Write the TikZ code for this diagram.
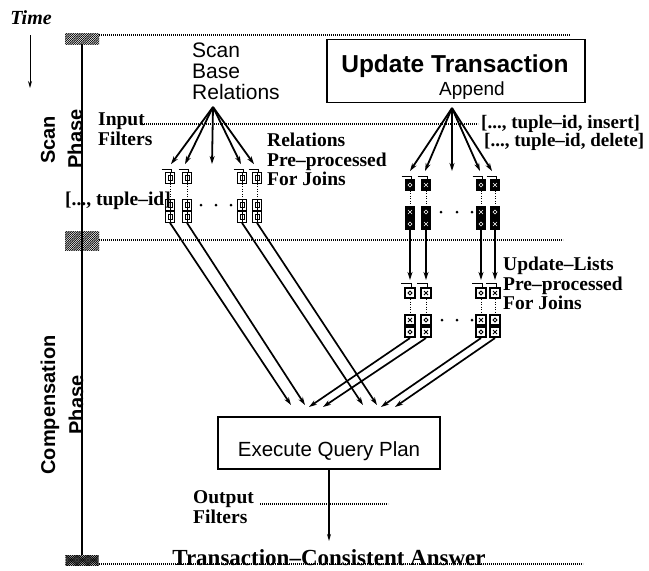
\documentclass[tikz,border=0pt]{standalone}
\usepackage{fontspec}
\setmainfont{Liberation Serif}
\newfontfamily\hv{Liberation Sans}
\usetikzlibrary{arrows.meta,patterns}

% dense diagonal hatching for the phase markers
\pgfdeclarepatternformonly{densehatch}{\pgfqpoint{-1pt}{-1pt}}{\pgfqpoint{3.2pt}{3.2pt}}{\pgfqpoint{2.2pt}{2.2pt}}{%
  \pgfsetlinewidth{0.7pt}\pgfpathmoveto{\pgfqpoint{-0.2pt}{-0.2pt}}\pgfpathlineto{\pgfqpoint{2.4pt}{2.4pt}}\pgfusepath{stroke}}
% dense cross hatching for the end marker
\pgfdeclarepatternformonly{densecross}{\pgfqpoint{-1pt}{-1pt}}{\pgfqpoint{3.2pt}{3.2pt}}{\pgfqpoint{2.2pt}{2.2pt}}{%
  \pgfsetlinewidth{0.6pt}\pgfpathmoveto{\pgfqpoint{-0.2pt}{-0.2pt}}\pgfpathlineto{\pgfqpoint{2.4pt}{2.4pt}}
  \pgfpathmoveto{\pgfqpoint{-0.2pt}{2.4pt}}\pgfpathlineto{\pgfqpoint{2.4pt}{-0.2pt}}\pgfusepath{stroke}}

% one column of a pre-processed relation: pointer hook, top block, two stacked blocks
\newcommand\relcolumn[3]{%
  \node[relsq] (#1t) at (#2,#3+5) {};
  \node[relsq] (#1m) at (#2,#3+32) {};
  \node[relsq] (#1b) at (#2,#3+44) {};
  \draw[hookln] ([xshift=-3pt,yshift=3pt]#1t.north west) -- ([xshift=1pt,yshift=3pt]#1t.north) -- ([xshift=1pt]#1t.north);
  \draw[dotlink] (#1t.south) -- (#1m.north);
}
% one column of an update list, with the block style given per row
\newcommand\updcolumn[6]{%
  \node[#4] (#1t) at (#2,#3+5) {};
  \node[#5] (#1m) at (#2,#3+32) {};
  \node[#6] (#1b) at (#2,#3+44) {};
  \draw[hookln] ([xshift=-3pt,yshift=3pt]#1t.north west) -- ([xshift=1pt,yshift=3pt]#1t.north) -- ([xshift=1pt]#1t.north);
  \draw[dotlink] (#1t.south) -- (#1m.north);
}

\begin{document}
\begin{tikzpicture}[x=1pt,y=-1pt,
  lbl/.style={font=\fontsize{19.5}{19.5}\selectfont\bfseries, inner sep=0pt, align=left},
  tuplbl/.style={font=\fontsize{19}{19}\selectfont\bfseries, inner sep=0pt, anchor=west},
  sanslbl/.style={font=\hv\fontsize{21}{21}\selectfont, inner sep=0pt, align=left},
  phaselbl/.style={font=\hv\bfseries\fontsize{20}{20}\selectfont, inner sep=0pt, rotate=90},
  dotline/.style={line width=1.3pt, dash pattern=on 1.3pt off 0.7pt},
  phasebar/.style={line width=1.2pt},
  fan/.style={line width=1.8pt, -{Stealth[length=8pt,width=5pt]}},
  link/.style={line width=1.7pt, -{Stealth[length=8pt,width=5pt]}},
  hookln/.style={line width=1pt},
  dotlink/.style={line width=0.9pt, dash pattern=on 1pt off 1.5pt},
  hatchbox/.style={pattern=densehatch, minimum width=34pt, inner sep=0pt},
  sq/.style={draw, line width=1.2pt, minimum width=9.5pt, minimum height=10.5pt, inner sep=0pt},
  relsq/.style={sq, path picture={
     \draw[line width=0.8pt] ([xshift=-2pt,yshift=-2.5pt]path picture bounding box.center) rectangle ([xshift=2pt,yshift=2.5pt]path picture bounding box.center);
     \draw[line width=0.8pt] (path picture bounding box.north) -- (path picture bounding box.south);}},
  insA/.style={sq, line width=1.4pt, fill=black, path picture={
     \draw[white, line width=0.6pt] ([yshift=2pt]path picture bounding box.center) -- ([xshift=2pt]path picture bounding box.center) -- ([yshift=-2pt]path picture bounding box.center) -- ([xshift=-2pt]path picture bounding box.center) -- cycle;}},
  delA/.style={sq, line width=1.4pt, fill=black, path picture={
     \draw[white, line width=0.6pt] ([xshift=-2pt,yshift=-2pt]path picture bounding box.center) -- ([xshift=2pt,yshift=2pt]path picture bounding box.center)
       ([xshift=-2pt,yshift=2pt]path picture bounding box.center) -- ([xshift=2pt,yshift=-2pt]path picture bounding box.center);}},
  insB/.style={sq, line width=1.6pt, path picture={
     \draw[line width=0.9pt] ([yshift=2pt]path picture bounding box.center) -- ([xshift=2pt]path picture bounding box.center) -- ([yshift=-2pt]path picture bounding box.center) -- ([xshift=-2pt]path picture bounding box.center) -- cycle;}},
  delB/.style={sq, line width=1.6pt, path picture={
     \draw[line width=0.9pt] ([xshift=-2pt,yshift=-2pt]path picture bounding box.center) -- ([xshift=2pt,yshift=2pt]path picture bounding box.center)
       ([xshift=-2pt,yshift=2pt]path picture bounding box.center) -- ([xshift=2pt,yshift=-2pt]path picture bounding box.center);}},
]
\useasboundingbox (0,0) rectangle (649,571);

% ---- time axis and phase bar
\node[font=\fontsize{20}{20}\selectfont\bfseries\itshape, inner sep=0pt] (time) at (31,18) {Time};
\coordinate (timeend) at (30,88);
\draw[line width=1pt, -{Stealth[length=7pt,width=4pt]}, shorten <=10pt] (time.south -| timeend) -- (timeend);

\node[hatchbox, minimum height=11pt] (hscan) at (82,38.5) {};
\node[hatchbox, minimum height=19pt] (hmid) at (82,240.5) {};
\node[pattern=densecross, minimum width=33pt, minimum height=10pt, inner sep=0pt] (hend) at (82,560) {};
\draw[phasebar] (hscan.south) -- (hend.north);

\node[phaselbl] (scan1) at (48,140) {Scan};
\node[phaselbl] (scan2) at (75,139) {Phase};
\node[phaselbl] (comp1) at (50,405) {Compensation};
\node[phaselbl] (comp2) at (76,405) {Phase};

% ---- phase boundaries and filter lines
\coordinate (topA) at (99,35);  \coordinate (topB) at (570,35);
\coordinate (midA) at (99,240); \coordinate (midB) at (563,240);
\coordinate (botA) at (99,564); \coordinate (botB) at (583,564);
\draw[dotline] (topA) -- (topB);
\draw[dotline] (midA) -- (midB);
\draw[dotline] (botA) -- (botB);

\node[lbl, anchor=north west] (infilt) at (98,113) {Input\\[0.5pt]Filters};
\coordinate (inA) at (140,124); \coordinate (inB) at (478,124);
\draw[dotline] (inA) -- (inB);

% ---- scan of the base relations
\node[sanslbl, anchor=north west] (scanrel) at (192,43) {Scan\\Base\\Relations};
\coordinate (relapex) at (213,107);
\coordinate (relmid) at (212,164);

\relcolumn{ra}{170}{173}
\relcolumn{rb}{187}{173}
\relcolumn{rc}{242}{173}
\relcolumn{rd}{257}{173}
\foreach \x in {201,216,231} \fill (\x,205) circle (1.5pt);

\draw[fan] (relapex) -- ([xshift=1pt,yshift=8pt]rat.north);
\draw[fan] (relapex) -- ([xshift=-2pt,yshift=8pt]rbt.north);
\draw[fan] (relapex) -- (relmid);
\draw[fan] (relapex) -- ([xshift=-1pt,yshift=8pt]rct.north);
\draw[fan] (relapex) -- ([xshift=-3pt,yshift=8pt]rdt.north);

\node[lbl, anchor=west] (tid) at (65,201) {[..., tuple--id]};
\node[lbl, anchor=north west] (relpre) at (267,133) {Relations\\Pre--processed\\For Joins};

% ---- update transaction and its update lists
\node[draw, line width=1.6pt, minimum width=258pt, minimum height=63pt, inner sep=0pt] (upd) at (456,71) {};
\node[font=\hv\bfseries\fontsize{24.5}{24.5}\selectfont, inner sep=0pt] (updtitle) at (455,66.5) {Update Transaction};
\node[font=\hv\fontsize{19}{19}\selectfont, inner sep=0pt] (append) at (472,91) {Append};

\node[tuplbl] (ins) at (481,124) {[..., tuple--id, insert]};
\node[tuplbl] (del) at (484,142) {[..., tuple--id, delete]};

\coordinate (updapex) at (452,108);
\coordinate (updmid) at (452,171);

\updcolumn{ua}{410}{180}{insA}{delA}{insA}
\updcolumn{ub}{426}{180}{delA}{insA}{delA}
\updcolumn{uc}{481}{180}{insA}{delA}{insA}
\updcolumn{ud}{495}{180}{delA}{insA}{delA}
\foreach \x in {441,457,472} \fill (\x,212) circle (1.5pt);

\draw[fan] (updapex) -- ([xshift=0pt,yshift=8pt]uat.north);
\draw[fan] (updapex) -- ([xshift=-1pt,yshift=8pt]ubt.north);
\draw[fan] (updapex) -- (updmid);
\draw[fan] (updapex) -- ([xshift=-1pt,yshift=8pt]uct.north);
\draw[fan] (updapex) -- ([xshift=-3pt,yshift=8pt]udt.north);

\updcolumn{va}{410}{288}{insB}{delB}{insB}
\updcolumn{vb}{426}{288}{delB}{insB}{delB}
\updcolumn{vc}{481}{288}{insB}{delB}{insB}
\updcolumn{vd}{495}{288}{delB}{insB}{delB}
\foreach \x in {442,457,472} \fill (\x,320) circle (1.5pt);

\draw[link] (uab.south) -- ([yshift=7pt]vat.north);
\draw[link] (ubb.south) -- ([yshift=7pt]vbt.north);
\draw[link] (ucb.south) -- ([yshift=7pt]vct.north);
\draw[link] (udb.south) -- ([yshift=7pt]vdt.north);

\node[lbl, anchor=north west] (updpre) at (503,257) {Update--Lists\\Pre--processed\\For Joins};

% ---- query plan over relations and update lists
\node[draw, line width=1.5pt, minimum width=222pt, minimum height=52pt, inner sep=0pt] (exec) at (329,443) {};
\node[font=\hv\fontsize{20.5}{20.5}\selectfont, inner sep=0pt] (execlbl) at (329,451) {Execute Query Plan};

\coordinate (tR1) at (291,405); \coordinate (tR2) at (305,405);
\coordinate (tU1) at (309,407); \coordinate (tU2) at (323,407);
\coordinate (tR3) at (363,405); \coordinate (tR4) at (377,405);
\coordinate (tU3) at (381,407); \coordinate (tU4) at (395,407);

\draw[link] (rab.south) -- (tR1);
\draw[link] (rbb.south) -- (tR2);
\draw[link] (rcb.south) -- (tR3);
\draw[link] (rdb.south) -- (tR4);
\draw[link] (vab.south) -- (tU1);
\draw[link] (vbb.south) -- (tU2);
\draw[link] (vcb.south) -- (tU3);
\draw[link] (vdb.south) -- (tU4);

% ---- output
\coordinate (outend) at (329,541);
\draw[line width=1.3pt, -{Stealth[length=7pt,width=4pt]}] (exec.south) -- (outend);
\node[lbl, anchor=north west] (outfilt) at (193,490) {Output\\[1pt]Filters};
\coordinate (outA) at (260,504); \coordinate (outB) at (388,504);
\draw[dotline] (outA) -- (outB);

\node[font=\fontsize{23}{23}\selectfont\bfseries, inner sep=0pt, anchor=base] (answer) at (329,565) {Transaction--Consistent Answer};
\end{tikzpicture}
\end{document}
